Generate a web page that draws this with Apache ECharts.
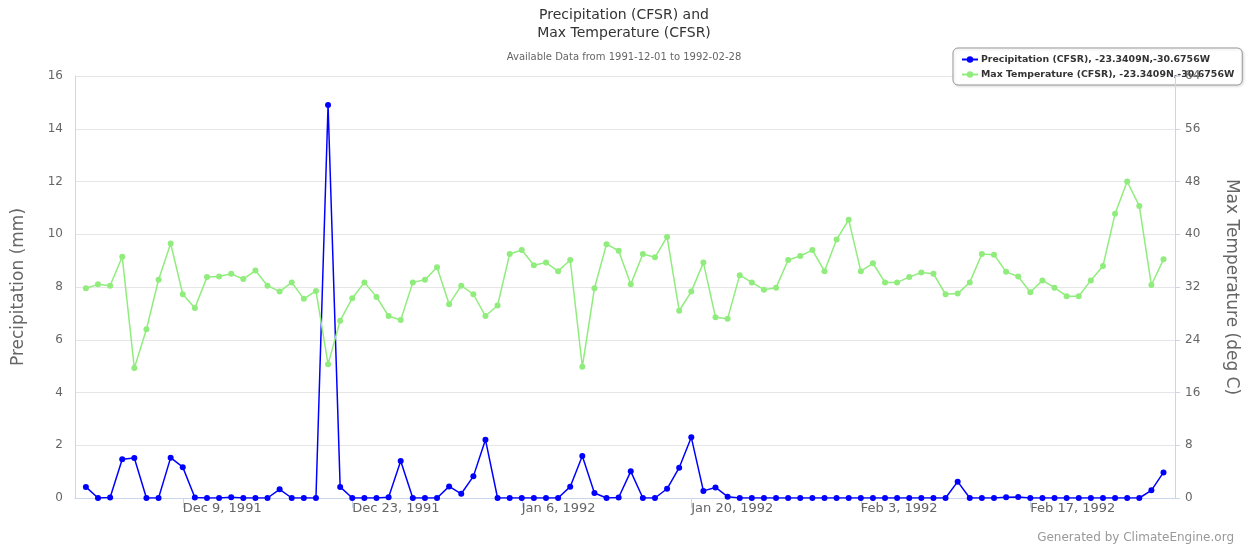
<!DOCTYPE html>
<html>
<head>
<meta charset="utf-8">
<script src="https://cdn.jsdelivr.net/npm/echarts@6/dist/echarts.min.js"></script>
<style>
  html, body { margin: 0; padding: 0; background: #fff; }
  #main { width: 1248px; height: 550px; }
</style>
</head>
<body>
<div id="main"></div>
<script>
// daily values, 1991-12-01 .. 1992-02-28 (90 days)
var precip = [
  0.42, 0, 0.02, 1.47, 1.52, 0, 0, 1.53, 1.17, 0.02, 0, 0, 0.03, 0, 0, 0, 0.33, 0, 0, 0, 14.9, 0.42,
  0, 0, 0, 0.03, 1.40, 0, 0, 0, 0.44,
  0.16, 0.82, 2.21, 0, 0, 0, 0, 0, 0, 0.43, 1.59, 0.19, 0, 0.02,
  1.01, 0, 0, 0.35, 1.15, 2.30, 0.27, 0.40, 0.05, 0, 0, 0, 0, 0, 0, 0, 0,
  0, 0, 0, 0, 0, 0, 0, 0, 0, 0, 0.62, 0, 0, 0, 0.03, 0.04,
  0, 0, 0, 0, 0, 0, 0, 0, 0, 0, 0.29, 0.97
]
var maxTemp = [
  31.8, 32.4, 32.2, 36.6, 19.7, 25.6, 33.1, 38.6, 30.9, 28.8, 33.5, 33.6, 34.0, 33.2, 34.5, 32.2, 31.3, 32.7, 30.2, 31.4, 20.3, 26.9,
  30.3, 32.7, 30.5, 27.6, 27.0, 32.7, 33.1, 35.0, 29.4,
  32.2, 30.9, 27.6, 29.2, 37.0, 37.6, 35.3, 35.7, 34.4, 36.1, 19.9, 31.8, 38.5, 37.5,
  32.4, 37.0, 36.5, 39.6, 28.4, 31.3, 35.7, 27.4, 27.2, 33.8, 32.7, 31.6, 31.9, 36.1, 36.7, 37.6, 34.4,
  39.2, 42.2, 34.4, 35.6, 32.7, 32.7, 33.5, 34.2, 34.0, 30.9, 31.0, 32.7, 37.0, 36.9, 34.3, 33.6,
  31.2, 33.0, 31.9, 30.6, 30.6, 33.0, 35.2, 43.1, 48.0, 44.3, 32.3, 36.2
]
// x ticks, as day offsets from 1991-12-01
var tickDays = [8, 22, 36, 50, 64, 78]
var tickLabels = ['Dec 9, 1991', 'Dec 23, 1991', 'Jan 6, 1992', 'Jan 20, 1992', 'Feb 3, 1992', 'Feb 17, 1992']

var precipName = 'Precipitation (CFSR), -23.3409N,-30.6756W'
var tempName = 'Max Temperature (CFSR), -23.3409N,-30.6756W'

var font = 'DejaVu Sans'
var chart = echarts.init(document.getElementById('main'), null, { renderer: 'canvas' })

chart.setOption({
  animation: false,
  textStyle: { fontFamily: font },
  title: [{
    text: 'Precipitation (CFSR) and\nMax Temperature (CFSR)',
    left: 'center',
    top: 1,
    textStyle: { fontFamily: font, fontSize: 14, fontWeight: 'normal', color: '#333', lineHeight: 18 }
  }, {
    text: 'Available Data from 1991-12-01 to 1992-02-28',
    left: 'center',
    top: 47,
    textStyle: { fontFamily: font, fontSize: 10, fontWeight: 'normal', color: '#666' }
  }],
  legend: {
    orient: 'vertical',
    left: 953,
    top: 48,
    z: 1,
    padding: [7, 8, 6, 8],
    itemGap: 6,
    itemWidth: 16,
    itemHeight: 8,
    borderColor: '#999',
    borderWidth: 1,
    borderRadius: 5,
    backgroundColor: '#fff',
    shadowColor: 'rgba(0,0,0,0.15)',
    shadowBlur: 3,
    shadowOffsetX: 1,
    shadowOffsetY: 1,
    textStyle: { fontFamily: font, fontSize: 9.4, fontWeight: 'bold', color: '#333', padding: [0, 0, 0, -2] },
    data: [precipName, tempName]
  },
  grid: { left: 75, right: 72, top: 76, bottom: 52 },
  xAxis: {
    type: 'value',
    min: -0.9,
    max: 89.95,
    axisLine: { lineStyle: { color: '#ccd6eb' } },
    axisTick: { show: true, customValues: tickDays, length: 10, lineStyle: { color: '#ccd6eb' } },
    axisLabel: {
      customValues: tickDays,
      formatter: function (v) { return tickLabels[tickDays.indexOf(v)] },
      align: 'left',
      margin: 4,
      color: '#666',
      fontSize: 13,
      fontFamily: font
    },
    splitLine: { show: false }
  },
  yAxis: [{
    type: 'value',
    min: 0,
    max: 16,
    interval: 2,
    name: 'Precipitation (mm)',
    nameLocation: 'middle',
    nameGap: 48,
    nameTextStyle: { fontFamily: font, fontSize: 17, color: '#666' },
    axisLine: { show: true, onZero: false, lineStyle: { color: '#ccd6eb' } },
    axisTick: { show: false },
    axisLabel: { color: '#666', fontSize: 12, fontFamily: font, margin: 12 },
    splitLine: { lineStyle: { color: '#e6e6e6' } }
  }, {
    type: 'value',
    position: 'right',
    z: 5,
    min: 0,
    max: 64,
    interval: 8,
    name: 'Max Temperature (deg C)',
    nameLocation: 'middle',
    nameRotate: -90,
    nameGap: 48,
    nameTextStyle: { fontFamily: font, fontSize: 17, color: '#666' },
    axisLine: { show: true, onZero: false, lineStyle: { color: '#ccd6eb' } },
    axisTick: { show: true, length: 5, lineStyle: { color: '#ccd6eb' } },
    axisLabel: { color: '#666', fontSize: 12, fontFamily: font, margin: 10 },
    splitLine: { show: false }
  }],
  series: [{
    name: precipName,
    type: 'line',
    yAxisIndex: 0,
    data: precip.map(function (v, i) { return [i, v] }),
    symbol: 'circle',
    symbolSize: 6,
    itemStyle: { color: '#0000ff' },
    lineStyle: { color: '#0000ff', width: 1.5 }
  }, {
    name: tempName,
    type: 'line',
    yAxisIndex: 1,
    data: maxTemp.map(function (v, i) { return [i, v] }),
    symbol: 'circle',
    symbolSize: 6,
    itemStyle: { color: '#90ed7d' },
    lineStyle: { color: '#90ed7d', width: 1.5 }
  }],
  graphic: [{
    type: 'text',
    right: 14,
    top: 532,
    style: { text: 'Generated by ClimateEngine.org', fill: '#999', font: '12px "DejaVu Sans"' }
  }]
})
</script>
</body>
</html>
